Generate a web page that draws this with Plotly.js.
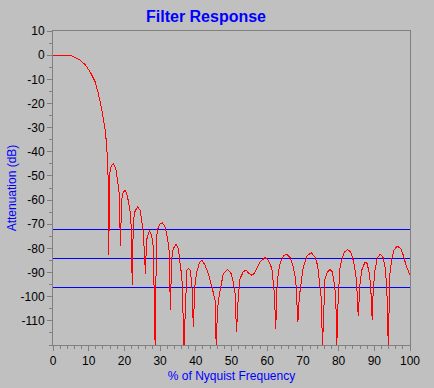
<!DOCTYPE html>
<html>
<head>
<meta charset="utf-8">
<script src="https://cdn.plot.ly/plotly-3.0.1.min.js"></script>
<style>
  html, body { margin: 0; padding: 0; background: #C0C0C0; }
  #chart { width: 434px; height: 388px; }
  #chart path.js-line, #chart path.xlines-above, #chart path.ylines-above,
  #chart path.xtick, #chart path.ytick { shape-rendering: crispEdges; }
</style>
</head>
<body>
<div id="chart"></div>
<script>
// Frequency in % of Nyquist, attenuation in dB
var freqPct = [
  0, 2, 4, 4.8, 5.5, 6.2, 7.6, 9.0, 10.4, 11.8, 12.7, 13.6, 14.1, 14.6, 15.0, 15.2, 15.4,
  15.6, 15.9, 16.3, 16.9, 17.6, 18.1, 18.5,
  18.9, 19.2, 19.6, 20.2, 20.8, 21.4, 21.8,
  22.2, 22.5, 23.0, 23.7, 24.4, 24.8, 25.3,
  25.9, 26.2, 27.0, 27.6, 28.1,
  28.6, 29.0, 29.5, 30.0, 30.6, 31.4, 32.1, 32.5,
  32.9, 33.2, 33.7, 34.5, 35.1, 35.6, 36.1,
  36.7, 37.2, 37.5, 37.9, 38.4, 38.9,
  39.3, 39.8, 40.3, 41.0, 41.7, 42.6, 43.5, 44.5, 45.4,
  45.7, 46.1, 46.5, 47.1, 47.7, 48.9, 49.9, 50.5, 51.0,
  51.4, 51.9, 52.4, 53.3, 54.1, 54.7, 55.7, 56.4, 57.1, 58.0, 59.4, 60.3, 61.3, 61.7, 62.0,
  62.4, 62.7, 63.1, 63.6, 64.5, 65.5, 66.4, 67.3, 68.0, 68.3,
  68.6, 69.0, 69.5, 70.1, 71.1, 72.3, 73.4, 74.1, 74.6, 75.1,
  75.5, 76.0, 76.2, 76.9, 77.6, 78.2, 78.8, 79.2,
  79.5, 79.9, 80.4, 80.9, 81.5, 82.4, 83.4, 84.1, 84.8, 85.1,
  85.5, 86.0, 86.5, 87.4, 88.0, 88.6, 89.0,
  89.4, 89.7, 90.2, 90.8, 91.6, 92.4, 93.0, 93.5,
  93.9, 94.4, 94.9, 95.5, 96.4, 97.4, 98.1, 98.9, 99.8, 100
];
var attenDb = [
  0, 0, 0, 0, -0.5, -1.1, -2.1, -3.9, -6.9, -11, -15.9, -22, -26.2, -31, -36.6, -42.8, -48,
  -82.8, -49, -46, -44.9, -46.9, -53.1, -56.6,
  -79, -60, -57, -55.9, -58, -62.8, -66.3,
  -95.2, -68.3, -64.5, -62.8, -64.2, -68.3, -73.2,
  -90.4, -76.6, -72.5, -74.5, -79.4,
  -120, -75.2, -71.1, -69.8, -69.4, -71.1, -75.9, -80.7,
  -105.6, -84.9, -80, -78.3, -80, -86.3, -91.8,
  -120, -95.9, -89, -88.3, -89, -94.5,
  -112.5, -94.5, -89.7, -86, -84.9, -87, -90.4, -95.9, -101.4,
  -120, -104.9, -100, -94.5, -90.4, -88.7, -90.4, -93.9, -98.7,
  -114.6, -100, -92.5, -89.7, -89, -90.1, -91.1, -90.4, -88.3, -85.6, -83.8, -84.9, -88.3, -93.2, -98.7,
  -113.2, -97.3, -90.4, -86.3, -83.2, -82.4, -83.8, -87.7, -93.2, -100,
  -110.4, -100, -93.2, -87.7, -83.2, -81.8, -83.5, -87, -93.2, -100,
  -120, -100, -92.5, -89.7, -88.7, -89.7, -94.5, -100,
  -120, -100, -88, -84.5, -81.8, -80.5, -81.4, -84.9, -90.4, -95.9,
  -108.1, -94.5, -89, -85.6, -86.3, -90.4, -95.9,
  -109.5, -97.3, -89, -84.2, -82.5, -83.5, -87.7, -95.9,
  -120, -90.4, -84.2, -80.7, -79.1, -80, -82.8, -87, -90.4, -91
];
var limitLevels = [-72, -84, -96];
var xTicks = [0, 10, 20, 30, 40, 50, 60, 70, 80, 90, 100];
var yTicks = [10, 0, -10, -20, -30, -40, -50, -60, -70, -80, -90, -100, -110];

var traces = [];
limitLevels.forEach(function (lv) {
  traces.push({
    x: [0, 100], y: [lv, lv], mode: 'lines', type: 'scatter',
    line: { color: '#0000FF', width: 1 }, hoverinfo: 'skip', showlegend: false
  });
});
traces.push({
  x: freqPct, y: attenDb, mode: 'lines', type: 'scatter',
  line: { color: '#FF0000', width: 1 }, showlegend: false
});

var axisCommon = {
  showgrid: false, zeroline: false, showline: true, linecolor: '#808080', linewidth: 1,
  mirror: true, ticks: 'outside', ticklen: 5, tickcolor: '#808080', tickwidth: 1,
  tickfont: { family: 'Liberation Sans, Arial, sans-serif', size: 12, color: '#000000' }
};

var layout = {
  width: 434, height: 388,
  paper_bgcolor: '#C0C0C0', plot_bgcolor: '#C0C0C0',
  margin: { l: 53, r: 24, t: 31, b: 43 },
  showlegend: false,
  title: {
    text: '<b>Filter Response</b>',
    font: { family: 'Liberation Sans, Arial, sans-serif', size: 16, color: '#0000FF' },
    x: 206 / 434, xref: 'container', xanchor: 'center', y: 1 - 16 / 388, yanchor: 'middle'
  },
  xaxis: Object.assign({}, axisCommon, {
    range: [0, 100], tickvals: xTicks, ticktext: xTicks.map(String),
    minor: { dtick: 2, ticks: 'outside', ticklen: 3, tickcolor: '#808080' },
    title: { text: '% of Nyquist Frequency', standoff: 4,
      font: { family: 'Liberation Sans, Arial, sans-serif', size: 12, color: '#0000FF' } }
  }),
  yaxis: Object.assign({}, axisCommon, {
    range: [-120, 10], tickvals: yTicks, ticktext: yTicks.map(String),
    minor: { dtick: 5, ticks: 'outside', ticklen: 3, tickcolor: '#808080' },
    title: { text: 'Attenuation (dB)', standoff: 1,
      font: { family: 'Liberation Sans, Arial, sans-serif', size: 12, color: '#0000FF' } }
  })
};

Plotly.newPlot('chart', traces, layout, { staticPlot: true, displayModeBar: false });
</script>
</body>
</html>
